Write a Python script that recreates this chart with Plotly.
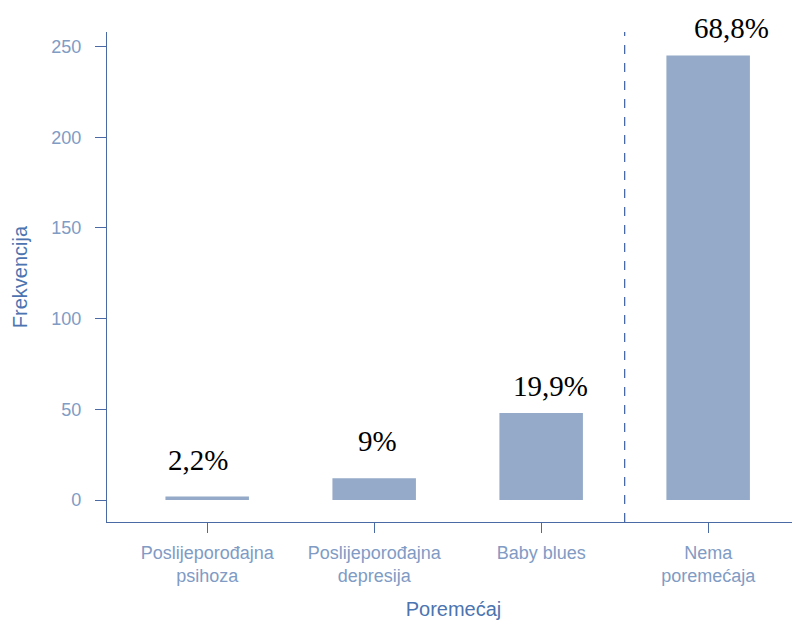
import plotly.graph_objects as go

categories = ["Poslijeporođajna<br>psihoza", "Poslijeporođajna<br>depresija", "Baby blues", "Nema<br>poremećaja"]
frequencies = [2, 12, 48, 245]
percent_labels = ["2,2%", "9%", "19,9%", "68,8%"]
y_ticks = [0, 50, 100, 150, 200, 250]

label_xshift = [-9, 3, 9, 23]
label_yshift = [36, 37, 27, 28]

bar_color = "#94aac8"
axis_color = "#4a6aa5"
tick_color = "#809bc4"
title_color = "#4c74b0"

fig = go.Figure()
fig.add_trace(go.Bar(
    x=list(range(len(categories))), y=frequencies,
    marker=dict(color=bar_color, line=dict(width=0)),
    width=0.5, showlegend=False,
))

for i, (lab, v) in enumerate(zip(percent_labels, frequencies)):
    fig.add_annotation(x=i, y=v, text=lab, showarrow=False,
                       xanchor="center", yanchor="middle",
                       xshift=label_xshift[i], yshift=label_yshift[i],
                       font=dict(family="Liberation Serif, Times New Roman, serif", size=29, color="black"))

fig.add_shape(type="line", x0=2.5, x1=2.5, y0=0, y1=1, xref="x", yref="paper",
              line=dict(color=axis_color, width=1.3, dash="dash"))

fig.update_layout(
    width=792, height=613,
    margin=dict(l=99, r=0, t=24, b=99, autoexpand=False),
    plot_bgcolor="white", paper_bgcolor="white",
    font=dict(family="Liberation Sans, Arial, sans-serif"),
    xaxis=dict(
        range=[-0.6, 3.55], tickmode="array",
        tickvals=list(range(len(categories))), ticktext=categories,
        showline=True, linecolor=axis_color, linewidth=1.3,
        ticks="outside", ticklen=10, tickcolor=axis_color, tickwidth=1.3,
        ticklabelstandoff=4,
        tickfont=dict(size=18, color=tick_color),
        showgrid=False, zeroline=False, automargin=False,
        title=dict(text="Poremećaj", font=dict(size=20, color=title_color), standoff=16),
    ),
    yaxis=dict(
        range=[-12.1, 258], tickvals=y_ticks,
        showline=True, linecolor=axis_color, linewidth=1.3,
        ticks="outside", ticklen=11, tickcolor=axis_color, tickwidth=1.3,
        ticklabelstandoff=10,
        tickfont=dict(size=18, color=tick_color),
        showgrid=False, zeroline=False, automargin=False,
        title=dict(text="Frekvencija", font=dict(size=20, color=title_color), standoff=18),
    ),
)

fig.write_html("out.html")
